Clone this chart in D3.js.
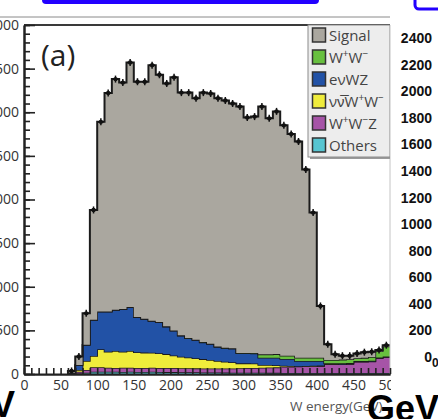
<!DOCTYPE html>
<html>
<head>
<meta charset="utf-8">
<script src="https://cdn.jsdelivr.net/npm/d3@7"></script>
<style>
body { margin: 0; background: #fff; }
svg { display: block; }
</style>
</head>
<body>
<div id="chart"></div>
<script>
// W energy stacked histogram, 10 GeV bins starting at 60 GeV
const binStarts = [60,70,80,90,100,110,120,130,140,150,160,170,180,190,200,210,220,230,240,250,
                   260,270,280,290,300,310,320,330,340,350,360,370,380,390,400,410,420,430,440,450,
                   460,470,480,490];
const others = [0,5,15,27,27,25,25,24,25,24,24,25,23,22,22,20,20,20,18,18,
                17,16,15,15,14,14,14,13,13,12,12,12,12,12,12,12,12,12,12,12,
                12,12,12,12];
const wwz = [5,20,31,50,50,47,45,48,47,46,46,47,47,46,46,46,46,45,46,46,
             47,48,49,51,54,56,58,61,63,72,72,74,76,78,80,99,99,99,103,129,
             129,133,171,183];
const nnww = [5,21,104,129,206,184,194,184,192,180,175,172,167,160,144,133,124,115,107,97,
              86,76,70,56,54,50,31,29,24,11,8,4,4,4,4,3,3,2,2,2,
              2,2,2,2];
const evwz = [5,57,183,414,432,459,470,486,501,400,385,364,356,315,285,241,219,210,192,183,
              160,155,156,115,115,115,84,84,87,77,80,59,57,55,53,8,8,9,8,5,
              5,5,5,3];
const ww = [0,0,2,2,2,2,2,2,2,2,2,2,2,3,3,3,3,3,4,4,
            5,5,5,3,5,5,38,38,41,38,38,38,38,38,38,38,38,43,45,32,
            37,43,72,115];
const signal = [20,97,360,1258,2173,2503,2644,2596,2803,2698,2718,2930,2835,2784,2900,2782,2813,2767,2858,2867,
                2845,2835,2805,2825,2698,2710,2840,2705,2782,2640,2540,2478,2158,1663,593,180,65,45,40,55,
                65,60,13,15];

const stackKeys = ['others', 'wwz', 'nnww', 'evwz', 'ww', 'signal'];
const colors = {
    signal: '#aaa79f',
    ww: '#68c03f',
    evwz: '#2252a6',
    nnww: '#efec3b',
    wwz: '#a654a7',
    others: '#57c5d1'
};
// legend: label pieces, 's' = superscript
const legendKeys = ['signal', 'ww', 'evwz', 'nnww', 'wwz', 'others'];
const legendLabels = [
    [['Signal']],
    [['W'], ['+', 's'], ['W'], ['\u2212', 's']],
    [['e\u03bdWZ']],
    [['\u03bd\u03bd\u0305W'], ['+', 's'], ['W'], ['\u2212', 's']],
    [['W'], ['+', 's'], ['W'], ['\u2212', 's'], ['Z']],
    [['Others']]
];

const yMajorTicks = [0,500,1000,1500,2000,2500,3000,3500,4000];
const xMajorTicks = [0,50,100,150,200,250,300,350,400,450,500];
const rightPanelTicks = [0,200,400,600,800,1000,1200,1400,1600,1800,2000,2200,2400];

const W = 438, H = 419;
const frame = { left: 24, right: 390, top: 25, bottom: 374 };
const FONT = '"Open Sans", "Liberation Sans", sans-serif';

const svg = d3.select('#chart').append('svg')
    .attr('width', W)
    .attr('height', H);

svg.append('rect').attr('width', W).attr('height', H).attr('fill', '#fff');

const x = d3.scaleLinear().domain([0, 500]).range([frame.left, frame.right]);
const y = d3.scaleLinear().domain([0, 4000]).range([frame.bottom, frame.top]);

// slide decorations at the very top
svg.append('rect')
    .attr('x', 42).attr('y', -10).attr('width', 277).attr('height', 14)
    .attr('rx', 4).attr('fill', '#2200ff');
svg.append('rect')
    .attr('x', 415).attr('y', -20).attr('width', 60).attr('height', 29)
    .attr('rx', 4).attr('fill', 'none').attr('stroke', '#2200ff').attr('stroke-width', 3);
svg.append('line')
    .attr('x1', 0).attr('x2', frame.right).attr('y1', 17).attr('y2', 17)
    .attr('stroke', '#8a8a8a').attr('stroke-width', 1);

// stacked data
const rows = binStarts.map((b, i) => ({
    x: b,
    others: others[i], wwz: wwz[i], nnww: nnww[i],
    evwz: evwz[i], ww: ww[i], signal: signal[i]
}));
const series = d3.stack().keys(stackKeys)(rows);

svg.append('clipPath').attr('id', 'plotClip')
    .append('rect')
    .attr('x', frame.left).attr('y', frame.top)
    .attr('width', frame.right - frame.left).attr('height', frame.bottom - frame.top);

const plot = svg.append('g').attr('clip-path', 'url(#plotClip)');

const area = d3.area()
    .curve(d3.curveStepAfter)
    .x(d => x(d.x))
    .y0(d => y(d.y0))
    .y1(d => y(d.y1));

const topLine = d3.line()
    .curve(d3.curveStepAfter)
    .x(d => x(d.x))
    .y(d => y(d.y1));

series.forEach(s => {
    const pts = s.map((d, i) => ({ x: binStarts[i], y0: d[0], y1: d[1] }));
    const last = pts[pts.length - 1];
    pts.push({ x: 500, y0: last.y0, y1: last.y1 });
    plot.append('path')
        .datum(pts)
        .attr('d', area)
        .attr('fill', colors[s.key]);
    const outline = [{ x: pts[0].x, y1: pts[0].y0 }].concat(pts);
    plot.append('path')
        .datum(outline)
        .attr('d', topLine)
        .attr('fill', 'none')
        .attr('stroke', '#1b1b1b')
        .attr('stroke-width', s.key === 'signal' ? 2 : 1.6);
});

// markers on the total
const totals = series[series.length - 1];
const markers = plot.append('g');
totals.forEach((d, i) => {
    const cx = x(binStarts[i] + 5), cy = y(d[1]);
    markers.append('line')
        .attr('x1', cx).attr('x2', cx).attr('y1', cy - 3.5).attr('y2', cy + 3.5)
        .attr('stroke', '#111').attr('stroke-width', 1.5);
    markers.append('line')
        .attr('x1', cx - 3).attr('x2', cx + 3).attr('y1', cy).attr('y2', cy)
        .attr('stroke', '#111').attr('stroke-width', 1.5);
    markers.append('circle')
        .attr('cx', cx).attr('cy', cy).attr('r', 2.2).attr('fill', '#111');
});

// frame
svg.append('line')
    .attr('x1', frame.right).attr('x2', frame.right).attr('y1', frame.top).attr('y2', frame.bottom)
    .attr('stroke', '#c4c4c4').attr('stroke-width', 1);
svg.append('line')
    .attr('x1', frame.left).attr('x2', frame.right).attr('y1', frame.top).attr('y2', frame.top)
    .attr('stroke', '#3a3a3a').attr('stroke-width', 2);

// y axis (ticks point inward)
const yMinor = svg.append('g')
    .attr('transform', `translate(${frame.left},0)`)
    .call(d3.axisLeft(y).tickValues(d3.range(0, 4001, 100)).tickSize(-6).tickFormat('').tickSizeOuter(0));
const yAxis = svg.append('g')
    .attr('transform', `translate(${frame.left},0)`)
    .call(d3.axisLeft(y).tickValues(yMajorTicks).tickSize(-11).tickPadding(5).tickSizeOuter(0));

// x axis
const xMinor = svg.append('g')
    .attr('transform', `translate(0,${frame.bottom})`)
    .call(d3.axisBottom(x).tickValues(d3.range(0, 501, 10)).tickSize(-6).tickFormat('').tickSizeOuter(0));
svg.append('clipPath').attr('id', 'xLabClip')
    .append('rect').attr('x', 0).attr('y', 0).attr('width', frame.right + 1).attr('height', H);
const xAxis = svg.append('g')
    .attr('transform', `translate(0,${frame.bottom})`)
    .attr('clip-path', 'url(#xLabClip)')
    .call(d3.axisBottom(x).tickValues(xMajorTicks).tickSize(-11).tickPadding(6).tickSizeOuter(0));

[yMinor, yAxis, xMinor, xAxis].forEach(g => {
    g.selectAll('.domain').attr('stroke', '#222').attr('stroke-width', 2);
    g.selectAll('.tick line').attr('stroke', '#222').attr('stroke-width', 1.6);
    g.selectAll('.tick text')
        .attr('fill', '#333')
        .style('font-family', FONT)
        .style('font-size', '14px');
});

// panel label
svg.append('text')
    .attr('x', 41).attr('y', 66)
    .attr('fill', '#222')
    .style('font-family', FONT)
    .style('font-size', '30px')
    .text('(a)');

// legend
svg.append('clipPath').attr('id', 'legClip')
    .append('rect').attr('x', 300).attr('y', 20).attr('width', frame.right - 300).attr('height', 150);
const legend = svg.append('g').attr('clip-path', 'url(#legClip)');
legend.append('rect')
    .attr('x', 310).attr('y', 27).attr('width', 82).attr('height', 132)
    .attr('fill', '#9a9a9a');
legend.append('rect')
    .attr('x', 308).attr('y', 25).attr('width', 82).attr('height', 132)
    .attr('fill', '#ededed').attr('stroke', '#8c8c8c').attr('stroke-width', 1);

legendKeys.forEach((k, i) => {
    const cy = 35 + i * 22;
    legend.append('rect')
        .attr('x', 312.5).attr('y', cy - 7).attr('width', 13).attr('height', 14)
        .attr('fill', colors[k]).attr('stroke', '#333').attr('stroke-width', 1.5);
    const t = legend.append('text')
        .attr('x', 329).attr('y', cy + 5.5)
        .attr('fill', '#444')
        .style('font-family', FONT)
        .style('font-size', '15px');
    legendLabels[i].forEach(([txt, kind]) => {
        const sp = t.append('tspan').text(txt);
        if (kind === 's') sp.attr('dy', -6).style('font-size', '10px');
        else if (t.node().childNodes.length > 1) {
            const prev = legendLabels[i][t.node().childNodes.length - 2];
            if (prev && prev[1] === 's') sp.attr('dy', 6);
        }
    });
});

// axis title
svg.append('text')
    .attr('x', 290).attr('y', 411)
    .attr('fill', '#555')
    .style('font-family', FONT)
    .style('font-size', '13.5px')
    .text('W energy(GeV)');

// neighbouring panel on the right (only its y labels are visible)
const yRight = d3.scaleLinear().domain([0, 2400]).range([357, 38]);
svg.append('g')
    .selectAll('text')
    .data(rightPanelTicks)
    .join('text')
    .attr('x', 432)
    .attr('y', d => yRight(d) + 5)
    .attr('text-anchor', 'end')
    .attr('fill', '#111')
    .style('font-family', '"Liberation Sans", Arial, sans-serif')
    .style('font-weight', 'bold')
    .style('font-size', '14px')
    .text(d => d);
svg.append('text')
    .attr('x', 432).attr('y', 367)
    .attr('fill', '#111')
    .style('font-family', '"Liberation Sans", Arial, sans-serif')
    .style('font-weight', 'bold')
    .style('font-size', '12px')
    .text('0');

// big slide captions at the bottom
svg.append('text')
    .attr('x', -9).attr('y', 417)
    .attr('fill', '#000')
    .style('font-family', '"Liberation Sans", Arial, sans-serif')
    .style('font-weight', 'bold')
    .style('font-size', '36px')
    .text('V');
svg.append('text')
    .attr('x', 367).attr('y', 421)
    .attr('fill', '#000')
    .style('font-family', '"Liberation Sans", Arial, sans-serif')
    .style('font-weight', 'bold')
    .style('font-size', '36px')
    .text('GeV');
</script>
</body>
</html>
